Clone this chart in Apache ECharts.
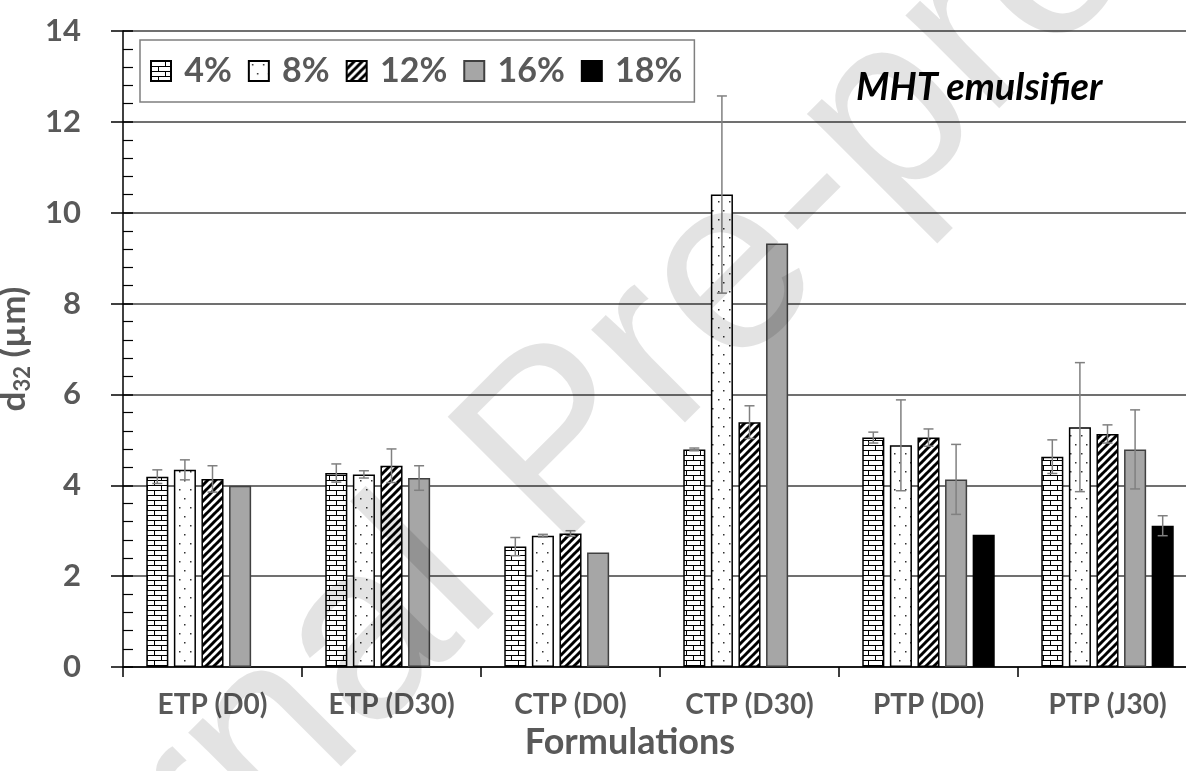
<!DOCTYPE html>
<html>
<head>
<meta charset="utf-8">
<script src="https://cdn.jsdelivr.net/npm/echarts@6/dist/echarts.min.js"></script>
<style>
html,body{margin:0;padding:0;background:#fff;}
#chart{width:1186px;height:771px;}
</style>
</head>
<body>
<div id="chart"></div>
<script>
// ---- data ----
var categories = ['ETP (D0)', 'ETP (D30)', 'CTP (D0)', 'CTP (D30)', 'PTP (D0)', 'PTP (J30)'];
var seriesNames = ['4%', '8%', '12%', '16%', '18%'];
var val4  = [4.19, 4.27, 2.65, 4.79, 5.05, 4.63];
var err4  = [0.15, 0.20, 0.20, 0.03, 0.12, 0.37];
var val8  = [4.34, 4.24, 2.89, 10.40, 4.88, 5.28];
var err8  = [0.22, 0.08, 0.03, 2.17, 1.00, 1.42];
var val12 = [4.14, 4.43, 2.94, 5.39, 5.05, 5.13];
var err12 = [0.29, 0.37, 0.06, 0.36, 0.19, 0.20];
var val16 = [3.99, 4.16, 2.52, 9.32, 4.13, 4.79];
var err16 = [0, 0.27, 0, 0, 0.77, 0.87];
var val18 = [null, null, null, null, 2.91, 3.11];
var err18 = [0, 0, 0, 0, 0, 0.22];
var yTicks = [0, 2, 4, 6, 8, 10, 12, 14];

var FONT = 'Lato';
var GRAY = '#595959';

// ---- patterns ----
function tile(w, h, draw) {
  var c = document.createElement('canvas');
  c.width = w; c.height = h;
  var g = c.getContext('2d');
  g.fillStyle = '#fff'; g.fillRect(0, 0, w, h);
  draw(g, w, h);
  return { image: c, repeat: 'repeat' };
}
var brick = tile(14, 10, function (g, w, h) {
  g.fillStyle = '#000';
  g.fillRect(0, 0, w, 1);
  g.fillRect(0, 5, w, 1);
  g.fillRect(0, 0, 1, 5);
  g.fillRect(7, 5, 1, 5);
});
var dots = tile(11, 18, function (g) {
  g.fillStyle = '#333';
  g.fillRect(3, 3, 1.5, 1.5);
  g.fillRect(8, 12, 1.5, 1.5);
});
var stripes = tile(8, 8, function (g) {
  g.strokeStyle = '#000';
  g.lineWidth = 3;
  for (var k = -1; k <= 1; k++) {
    g.beginPath();
    g.moveTo(k * 8 - 1, 9);
    g.lineTo(k * 8 + 9, -1);
    g.stroke();
  }
});
var fills = [brick, dots, stripes, '#a6a6a6', '#000000'];
var borders = ['#000', '#000', '#000', '#404040', '#000'];
var values = [val4, val8, val12, val16, val18];
var errors = [err4, err8, err12, err16, err18];

var CAT_GAP = 0.26, BAR_GAP = 0.25, NSER = 5;

var series = seriesNames.map(function (name, i) {
  return {
    name: name,
    type: 'bar',
    data: values[i],
    barGap: '25%',
    barCategoryGap: '26%',
    itemStyle: { color: fills[i], borderColor: borders[i], borderWidth: 1.5 },
    emphasis: { disabled: true }
  };
});

var errData = [];
values.forEach(function (arr, s) {
  arr.forEach(function (v, c) {
    if (v != null && errors[s][c] > 0) errData.push([c, s, v, errors[s][c]]);
  });
});

series.push({
  type: 'custom',
  name: 'err',
  data: errData,
  encode: { x: 0, y: 2 },
  z: 10,
  silent: true,
  renderItem: function (params, api) {
    var c = api.value(0), s = api.value(1), v = api.value(2), e = api.value(3);
    var band = api.size([1, 0])[0];
    var groupW = band * (1 - CAT_GAP);
    var bw = groupW / (NSER + (NSER - 1) * BAR_GAP);
    var center = api.coord([c, v]);
    var x = center[0] - groupW / 2 + bw / 2 + s * bw * (1 + BAR_GAP);
    var top = api.coord([c, v + e])[1];
    var bot = api.coord([c, v - e])[1];
    var cap = 5;
    var st = { stroke: '#808080', lineWidth: 1.5 };
    return {
      type: 'group',
      children: [
        { type: 'line', shape: { x1: x, y1: top, x2: x, y2: bot }, style: st },
        { type: 'line', shape: { x1: x - cap, y1: top, x2: x + cap, y2: top }, style: st },
        { type: 'line', shape: { x1: x - cap, y1: bot, x2: x + cap, y2: bot }, style: st }
      ]
    };
  }
});

var chart = echarts.init(document.getElementById('chart'), null, { renderer: 'canvas' });
chart.setOption({
  animation: false,
  backgroundColor: '#fff',
  title: {
    text: 'MHT emulsifier',
    left: 851, top: 64,
    textStyle: { fontFamily: FONT, fontStyle: 'italic', fontWeight: 'bold', fontSize: 38, color: '#000' }
  },
  legend: {
    data: seriesNames,
    left: 140, top: 40,
    orient: 'horizontal',
    icon: 'rect',
    itemWidth: 20, itemHeight: 20, itemGap: 16,
    padding: [14, 12, 14, 10],
    borderColor: '#7f7f7f', borderWidth: 1.5,
    backgroundColor: '#fff',
    formatter: function (n) { return ' ' + n; },
    textStyle: { fontFamily: FONT, fontWeight: 'bold', fontSize: 34, color: GRAY },
    selectedMode: false
  },
  grid: { left: 123, right: -11, top: 31, bottom: 104, outerBoundsMode: 'none', containLabel: false },
  xAxis: {
    type: 'category',
    data: categories,
    axisLine: { lineStyle: { color: '#000', width: 1.5 } },
    axisTick: { show: true, length: 10, lineStyle: { color: '#000', width: 1.5 } },
    axisLabel: { fontFamily: FONT, fontWeight: 'bold', fontSize: 28, color: GRAY, margin: 24 },
    name: 'Formulations',
    nameLocation: 'middle',
    nameGap: 54,
    nameTextStyle: { fontFamily: FONT, fontWeight: 'bold', fontSize: 36, color: GRAY, padding: [0, 60, 0, 0] }
  },
  yAxis: [{
    type: 'value',
    min: 0, max: 14, interval: 2,
    axisLine: { show: true, lineStyle: { color: '#000', width: 1.5 } },
    axisTick: { show: true, length: 12, lineStyle: { color: '#000', width: 1.5 } },
    axisLabel: { fontFamily: FONT, fontWeight: 'bold', fontSize: 31, color: GRAY, margin: 42 },
    splitLine: { show: true, lineStyle: { color: '#404040', width: 1.5 } },
    name: '{d|d}{s|32}{d| (µm)}',
    nameLocation: 'middle',
    nameGap: 72,
    nameTextStyle: {
      rich: {
        d: { fontFamily: FONT, fontWeight: 'bold', fontSize: 35, color: GRAY },
        s: { fontFamily: FONT, fontWeight: 'bold', fontSize: 22, color: GRAY, verticalAlign: 'bottom', padding: [18, 0, 0, 0] }
      }
    }
  }, {
    type: 'value',
    position: 'left',
    min: 0, max: 14, interval: 2,
    axisLine: { show: false },
    axisTick: { show: true, inside: true, length: 10, lineStyle: { color: '#000', width: 1.5 } },
    minorTick: { show: true, splitNumber: 5, length: 10, lineStyle: { color: '#000', width: 1.2 } },
    axisLabel: { show: false },
    splitLine: { show: false }
  }],
  graphic: [{
    type: 'text',
    x: 560, y: 450,
    rotation: 45 * Math.PI / 180,
    z: 100,
    silent: true,
    style: {
      text: 'Journal Pre-proof',
      font: '250px "Liberation Sans"',
      fill: 'rgba(0,0,0,0.11)',
      align: 'center',
      verticalAlign: 'middle'
    }
  }],
  series: series
});
</script>
</body>
</html>
